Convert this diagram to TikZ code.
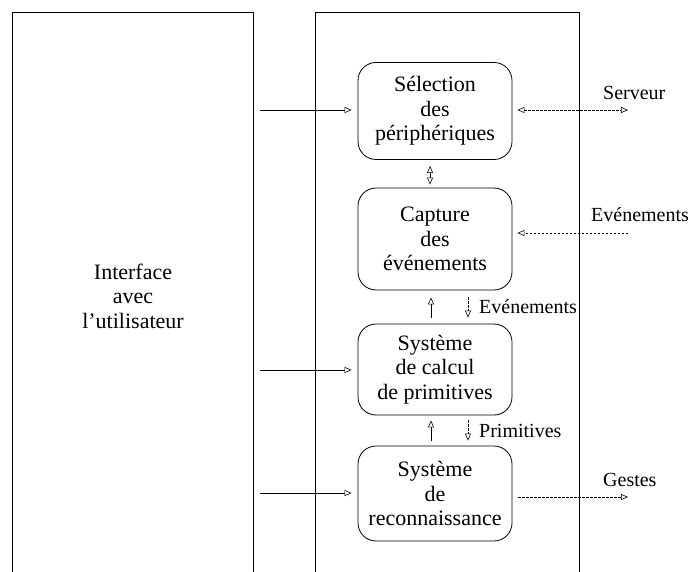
\documentclass[tikz,border=0pt]{standalone}
\usepackage{fontspec}
\setmainfont{Liberation Serif}
\usetikzlibrary{arrows.meta}
\tikzset{
  module/.style={draw, line width=0.8pt, rounded corners=18pt, align=center, minimum width=154pt,
    inner sep=2pt, font=\fontsize{22}{24.5}\selectfont},
  lbl/.style={font=\fontsize{20}{22}\selectfont, inner sep=0pt},
  tip/.style={Triangle[open,length=7pt,width=6pt]},
  flow/.style={-{Triangle[open,length=7pt,width=6pt]}, line width=0.6pt},
  dataflow/.style={flow, dash pattern=on 2.5pt off 1.5pt}
}
\begin{document}
\begin{tikzpicture}[x=1pt,y=-1pt]
\useasboundingbox (0,0) rectangle (691,572);
% the two panels, cut off at the bottom
\draw[line width=0.7pt] (12,572) |- (253,12) -- (253,572);
\draw[line width=0.7pt] (315,572) |- (579,12) -- (579,572);
\node[font=\fontsize{22}{24.5}\selectfont, align=center] (ui) at (133,296) {Interface\\avec\\l'utilisateur};

% modules
\node[module, minimum height=97pt] (sel) at (435,111) {Sélection\\des\\périphériques};
\node[module, minimum height=102pt] (capt) at (435,239) {Capture\\des\\événements};
\node[module, minimum height=91pt] (prim) at (435,369.5) {Système\\de calcul\\de primitives};
\node[module, minimum height=95pt] (reco) at (435,493.5) {Système\\de\\reconnaissance};

% from the interface
\coordinate (u1) at (260,110);
\coordinate (u2) at (260,370);
\coordinate (u3) at (260,493);
\draw[flow] (u1) -- ([xshift=-6pt]u1 -| sel.west);
\draw[flow] (u2) -- ([xshift=-6pt]u2 -| prim.west);
\draw[flow] (u3) -- ([xshift=-6pt]u3 -| reco.west);

% between modules
\draw[line width=0.6pt, {Triangle[open,length=7pt,width=6pt]}-{Triangle[open,length=7pt,width=6pt]}]
  ([xshift=-5pt,yshift=-6pt]sel.south) -- ([xshift=-5pt,yshift=3pt]capt.north);
\draw[flow] ([xshift=-4pt,yshift=6pt]prim.north) -- ([xshift=-4pt,yshift=-7pt]capt.south);
\draw[dataflow] ([xshift=33pt,yshift=-7pt]capt.south) -- ([xshift=33pt,yshift=6pt]prim.north);
\node[lbl, anchor=west] (ev2) at (479,307) {Evénements};
\draw[flow] ([xshift=-4pt,yshift=5pt]reco.north) -- ([xshift=-4pt,yshift=-5pt]prim.south);
\draw[dataflow] ([xshift=33pt,yshift=-5pt]prim.south) -- ([xshift=33pt,yshift=5pt]reco.north);
\node[lbl, anchor=west] (pr) at (479,431) {Primitives};

% outside world
\coordinate (srv) at (628,110);
\coordinate (evt) at (628,233);
\coordinate (gst) at (628,497);
\draw[dataflow, {Triangle[open,length=7pt,width=6pt]}-{Triangle[open,length=7pt,width=6pt]}] ([xshift=5pt]srv -| sel.east) -- (srv);
\node[lbl, anchor=west] (srvl) at (603,93) {Serveur};
\draw[dataflow] (evt) -- ([xshift=5pt]evt -| capt.east);
\node[lbl, anchor=west] (evl) at (591,215) {Evénements};
\draw[dataflow] ([xshift=6pt]gst -| reco.east) -- (gst);
\node[lbl, anchor=west] (gstl) at (603,480) {Gestes};
\end{tikzpicture}
\end{document}
